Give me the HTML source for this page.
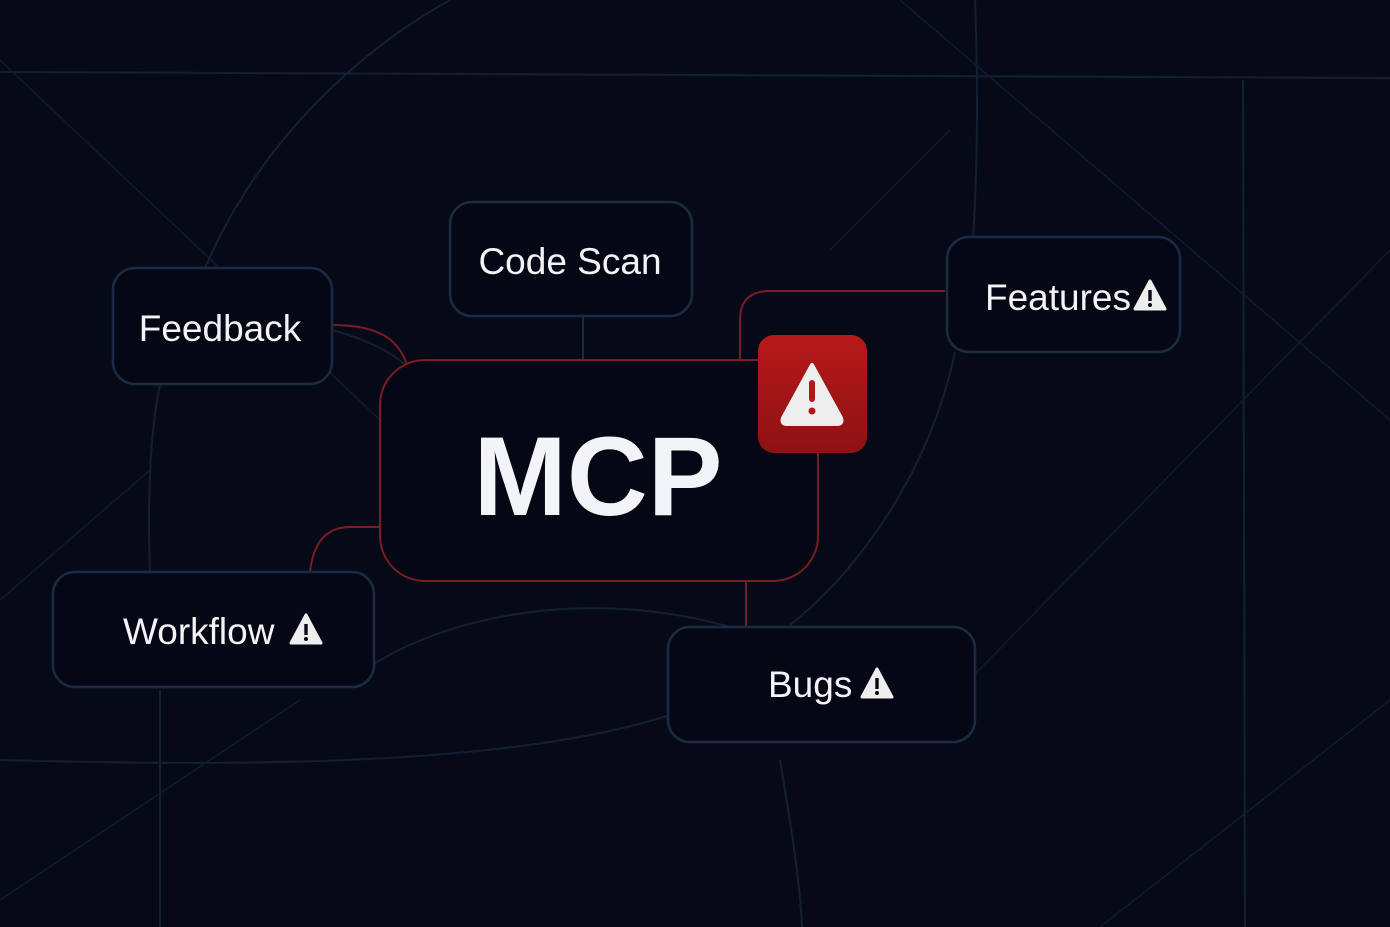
<!DOCTYPE html>
<html><head><style>
html,body{margin:0;padding:0;background:#060a17;}
svg{display:block}
text{font-family:"Liberation Sans",sans-serif;fill:#f2f4f7}
</style></head><body>
<svg width="1390" height="927" viewBox="0 0 1390 927">
<defs>
<linearGradient id="rg" x1="0" y1="0" x2="0" y2="1"><stop offset="0" stop-color="#b8191a"/><stop offset="1" stop-color="#8c1214"/></linearGradient>
</defs>
<rect width="1390" height="927" fill="#060a17"/>
<g stroke="#16213a" stroke-width="2" fill="none" opacity="0.9">
<path d="M0 72 L1390 78"/>
<path d="M975 0 C978 80 978 160 973 240"/>
<path d="M1243 80 L1245 927"/>
<path d="M0 760 C200 765 500 770 670 715"/>
<path d="M160 690 L160 927"/>
<path d="M780 760 C790 820 800 880 802 927"/>
<path d="M160 385 C148 440 148 520 150 572"/>
<path d="M205 268 C260 140 360 50 450 0"/>
<path d="M955 352 C930 470 860 570 790 625"/>
<path d="M372 665 C460 610 600 590 730 627"/>
<path d="M332 330 C370 340 395 355 405 365"/>
</g>
<g stroke="#101a30" stroke-width="1.5" fill="none">
<path d="M0 60 L380 420"/><path d="M1390 250 L930 720"/><path d="M900 0 L1390 420"/><path d="M0 600 L150 470"/><path d="M1100 927 L1390 700"/><path d="M830 250 L950 130"/><path d="M0 900 L300 700"/>
</g>
<path d="M583 316 L583 360" stroke="#1c2a45" stroke-width="2"/>
<g stroke="#7a1c24" stroke-width="2" fill="none">
<path d="M332 325 C380 325 400 340 408 368"/>
<path d="M945 291 L770 291 Q740 291 740 320 L740 360"/>
<path d="M746 581 L746 627"/>
<path d="M310 572 Q315 527 350 527 L380 527"/>
</g>
<rect x="380" y="360" width="438" height="221" rx="45" fill="#050814" stroke="#7a1c24" stroke-width="2"/>
<g fill="#050814" stroke="#1c2a45" stroke-width="2.5">
<rect x="450" y="202" width="242" height="114" rx="22"/>
<rect x="113" y="268" width="219" height="116" rx="22"/>
<rect x="947" y="237" width="233" height="115" rx="22"/>
<rect x="53" y="572" width="321" height="115" rx="22"/>
<rect x="668" y="627" width="307" height="115" rx="22"/>
</g>
<text x="570" y="274" font-size="37" text-anchor="middle">Code Scan</text>
<text x="220" y="341" font-size="37" text-anchor="middle">Feedback</text>
<text x="985" y="310" font-size="37">Features</text>
<text x="123" y="644" font-size="37">Workflow</text>
<text x="768" y="697" font-size="37">Bugs</text>
<text x="598" y="515" font-size="112" font-weight="bold" text-anchor="middle">MCP</text>
<rect x="758" y="335" width="109" height="118" rx="16" fill="url(#rg)"/>
<g>
<path d="M812 365 L841 418 Q843 424 837 424 L787 424 Q781 424 783 418 Z" fill="#eeeeee" stroke="#eeeeee" stroke-width="4" stroke-linejoin="round"/>
<rect x="809" y="380" width="6" height="22" rx="3" fill="#b0181a"/><circle cx="812" cy="411" r="3.5" fill="#b0181a"/>
</g>
<g fill="#eeeeee">
<g transform="translate(1150,297)"><path d="M0 -16 L15 12 L-15 12 Z" stroke="#eee" stroke-width="3" stroke-linejoin="round"/><rect x="-1.7" y="-7" width="3.4" height="11" fill="#060a17"/><circle cy="8" r="2" fill="#060a17"/></g>
<g transform="translate(306,631)"><path d="M0 -16 L15 12 L-15 12 Z" stroke="#eee" stroke-width="3" stroke-linejoin="round"/><rect x="-1.7" y="-7" width="3.4" height="11" fill="#060a17"/><circle cy="8" r="2" fill="#060a17"/></g>
<g transform="translate(877,685)"><path d="M0 -16 L15 12 L-15 12 Z" stroke="#eee" stroke-width="3" stroke-linejoin="round"/><rect x="-1.7" y="-7" width="3.4" height="11" fill="#060a17"/><circle cy="8" r="2" fill="#060a17"/></g>
</g>
</svg>
</body></html>
